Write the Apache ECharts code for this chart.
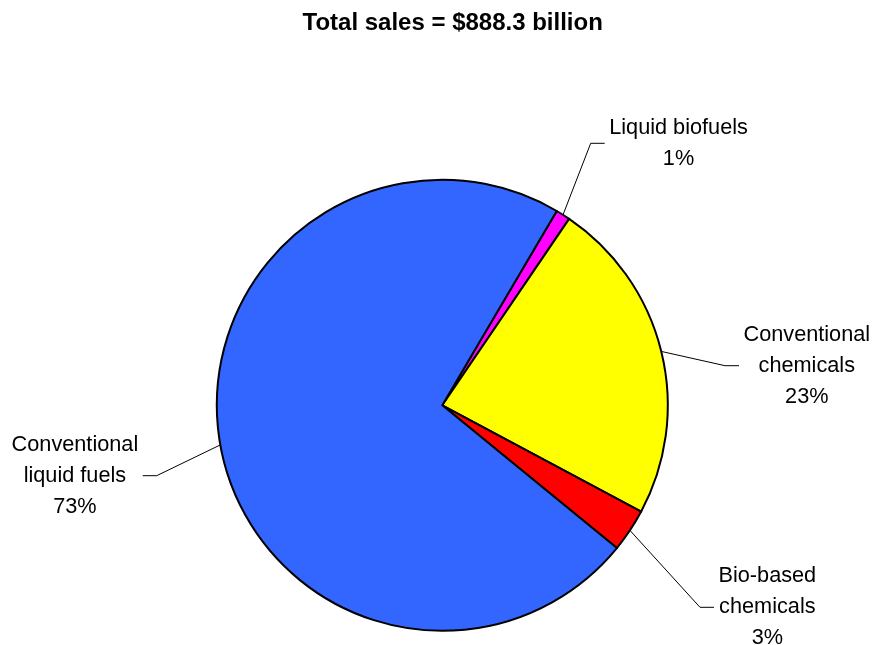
<!DOCTYPE html>
<html>
<head>
<meta charset="utf-8">
<title>Total sales</title>
<script src="https://cdn.jsdelivr.net/npm/echarts@6/dist/echarts.min.js"></script>
<style>
  html, body { margin: 0; padding: 0; background: #fff; }
  #chart { width: 875px; height: 645px; }
</style>
</head>
<body>
<div id="chart"></div>
<script>
// Sales by segment, $ billion (total 888.3)
const categories = ['Liquid biofuels', 'Conventional\nchemicals', 'Bio-based\nchemicals', 'Conventional\nliquid fuels'];
const sales = [9.2, 207, 27.5, 644.6];
const sliceColors = ['#FF00FF', '#FFFF00', '#FF0000', '#3366FF'];
const titleText = 'Total sales = $888.3 billion';

// Leader-line elbows for each label (px) and which side the text sits on
const labelElbows = [[590.7, 143.3], [725, 365.7], [700, 607.3], [156.7, 475.7]];
const labelSides = [1, 1, 1, -1];
const tailLength = 14;
const textGap = 4.5;

const chart = echarts.init(document.getElementById('chart'), null, { renderer: 'canvas' });

chart.setOption({
  animation: false,
  backgroundColor: '#ffffff',
  title: {
    text: titleText,
    left: 302.5,
    top: 11.5,
    padding: 0,
    textStyle: {
      fontFamily: 'Liberation Sans, Arial, sans-serif',
      fontWeight: 'bold',
      fontSize: 24,
      color: '#000'
    }
  },
  series: [{
    type: 'pie',
    center: [442.3, 405.3],
    radius: 225.5,
    startAngle: 59.5,
    clockwise: true,
    percentPrecision: 0,
    avoidLabelOverlap: false,
    emphasis: { disabled: true },
    itemStyle: { borderColor: '#000', borderWidth: 2 },
    label: {
      show: true,
      position: 'outside',
      formatter: '{b}\n{d}%',
      fontFamily: 'Liberation Sans, Arial, sans-serif',
      fontSize: 21.7,
      lineHeight: 31,
      color: '#000',
      align: 'center'
    },
    labelLine: {
      show: true,
      lineStyle: { color: '#000', width: 1 }
    },
    labelLayout: function (params) {
      const i = params.dataIndex;
      const side = labelSides[i];
      const elbow = labelElbows[i];
      const end = [elbow[0] + side * tailLength, elbow[1]];
      const start = params.labelLinePoints ? params.labelLinePoints[0] : elbow;
      return {
        x: end[0] + side * (textGap + params.labelRect.width / 2),
        y: end[1],
        align: 'center',
        verticalAlign: 'middle',
        labelLinePoints: [start, elbow, end]
      };
    },
    data: categories.map((name, i) => ({
      name: name,
      value: sales[i],
      itemStyle: { color: sliceColors[i] }
    }))
  }]
});
</script>
</body>
</html>
